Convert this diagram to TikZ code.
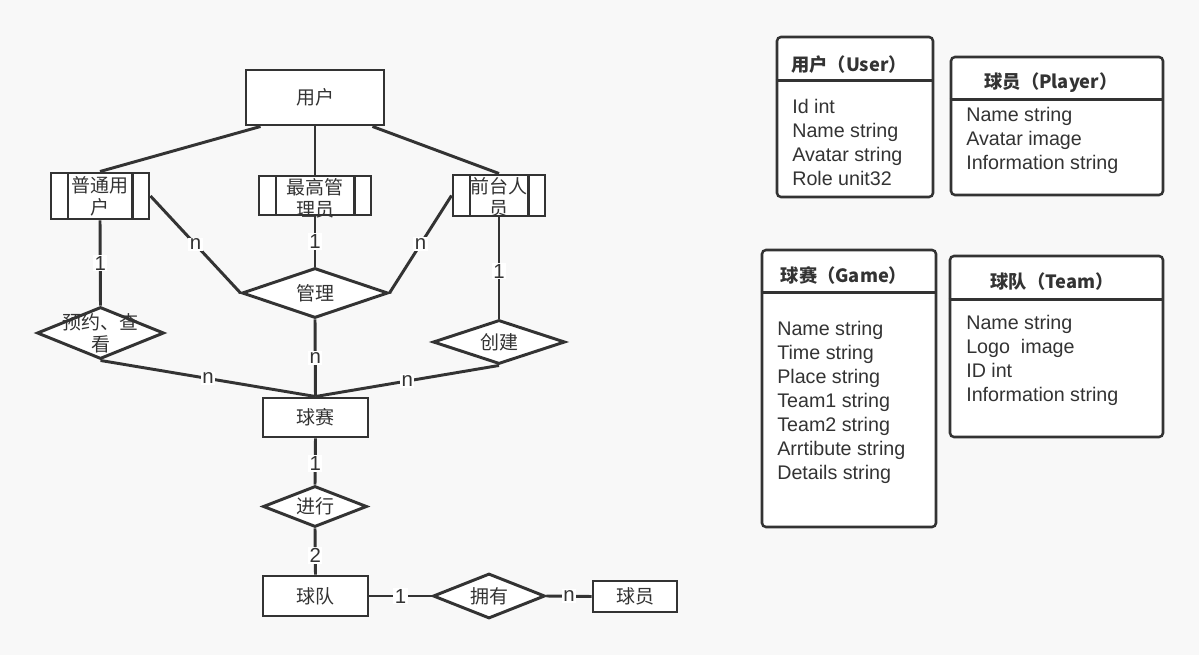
\documentclass[tikz,border=0pt]{standalone}
\usepackage{fontspec}
\setmainfont{Liberation Sans}
\newfontfamily\cjk{Noto Sans CJK SC}
\usetikzlibrary{shapes.geometric}
\definecolor{ink}{HTML}{333333}
\definecolor{paper}{HTML}{F8F8F8}
\tikzset{
  sz/.style 2 args={minimum width=#1*0.025cm, minimum height=#2*0.025cm, inner sep=0pt},
  txt/.style={font=\cjk\fontsize{13.5}{15.5}\selectfont, text=ink, align=center},
  ent/.style={rectangle, draw=ink, fill=white, line width=2.1pt},
  sub/.style={ent, path picture={
    \draw[ink, line width=2.1pt] ([xshift=0.425cm]path picture bounding box.north west) -- ([xshift=0.425cm]path picture bounding box.south west);
    \draw[ink, line width=2.1pt] ([xshift=-0.41cm]path picture bounding box.north east) -- ([xshift=-0.41cm]path picture bounding box.south east);}},
  rel/.style={diamond, draw=ink, fill=white, line width=2.1pt},
  con/.style={draw=ink, line width=2.1pt},
  lbl/.style={font=\fontsize{14.5}{16}\selectfont, text=ink, fill=white, inner sep=1pt},
  tbl/.style={rectangle, draw=ink, fill=white, line width=1.8pt, rounded corners=0.1cm},
  ttl/.style={font=\cjk\bfseries\fontsize{13}{15}\selectfont, text=ink},
  fld/.style={font=\fontsize{14}{17.07}\selectfont, text=ink, align=left, inner sep=0pt, anchor=north west}
}
\begin{document}
\begin{tikzpicture}[x=0.025cm, y=-0.025cm]
\fill[paper] (0,0) rectangle (1199,655);
\useasboundingbox (0,0) rectangle (1199,655);

% entities
\node[ent, sz={138}{55}, label={[txt]center:用户}] (user) at (315,97.5) {};
\node[sub, sz={98}{46}, label={[txt]center:普通用\\户}] (normal) at (100,196) {};
\node[sub, sz={112}{39}, label={[txt, yshift=-0.06cm]center:最高管\\理员}] (admin) at (315,195.5) {};
\node[sub, sz={92}{41}, label={[txt, yshift=-0.04cm]center:前台人\\员}] (staff) at (499,195.5) {};
\node[ent, sz={105}{39}, label={[txt]center:球赛}] (game) at (315.5,417.5) {};
\node[ent, sz={105}{40}, label={[txt]center:球队}] (team) at (315.5,596) {};
\node[ent, sz={84}{31}, label={[txt]center:球员}] (player) at (635,596.5) {};

% relations
\node[rel, sz={146}{50}, label={[txt]center:管理}] (manage) at (315,293) {};
\node[rel, sz={127}{52}, label={[txt]center:预约、查\\看}] (book) at (100.5,333) {};
\node[rel, sz={132}{44}, label={[txt]center:创建}] (create) at (499,342) {};
\node[rel, sz={104}{41}, label={[txt]center:进行}] (play) at (315,506.5) {};
\node[rel, sz={112}{45}, label={[txt]center:拥有}] (own) at (489,596) {};

\draw[con] ([xshift=0.4cm]user.south west) -- (normal.north);
\draw[con] (user.south) -- (admin.north);
\draw[con] ([xshift=-0.325cm]user.south east) -- (staff.north);

\draw[con] (normal.east) -- node[lbl]{n} (manage.west);
\draw[con] (admin.south) -- node[lbl]{1} (manage.north);
\draw[con] (staff.west) -- node[lbl]{n} (manage.east);
\draw[con] (normal.south) -- node[lbl]{1} (book.north);
\draw[con] (staff.south) -- node[lbl, pos=0.53]{1} (create.north);
\draw[con] (book.south) -- node[lbl]{n} (game.north);
\draw[con] (manage.south) -- node[lbl]{n} (game.north);
\draw[con] (create.south) -- node[lbl]{n} (game.north);
\draw[con] (game.south) -- node[lbl, pos=0.55]{1} (play.north);
\draw[con] (play.south) -- node[lbl, pos=0.58]{2} (team.north);
\draw[con] (team.east) -- node[lbl]{1} (own.west);
\draw[con] (own.east) -- node[lbl]{n} (player.west);

% tables
\node[tbl, sz={156}{160}] (tuser) at (855,117) {};
\draw[ink, line width=1.8pt] ([yshift=-1.125cm]tuser.north west) -- ([yshift=-1.125cm]tuser.north east);
\node[ttl] (tuserh) at (849,65) {用户（User）};
\node[fld] (tuserf) at (792,99) {Id int\\Name string\\Avatar string\\Role unit32};

\node[tbl, sz={212}{138}] (tplayer) at (1057,126) {};
\draw[ink, line width=1.8pt] ([yshift=-1.1cm]tplayer.north west) -- ([yshift=-1.1cm]tplayer.north east);
\node[ttl] (tplayerh) at (1051,83) {球员（Player）};
\node[fld] (tplayerf) at (966,107) {Name string\\Avatar image\\Information string};

\node[tbl, sz={174}{277}] (tgame) at (849,388.5) {};
\draw[ink, line width=1.8pt] ([yshift=-1.1cm]tgame.north west) -- ([yshift=-1.1cm]tgame.north east);
\node[ttl] (tgameh) at (844,275) {球赛（Game）};
\node[fld] (tgamef) at (777,321) {Name string\\Time string\\Place string\\Team1 string\\Team2 string\\Arrtibute string\\Details string};

\node[tbl, sz={213}{181}] (tteam) at (1056.5,346.5) {};
\draw[ink, line width=1.8pt] ([yshift=-1.125cm]tteam.north west) -- ([yshift=-1.125cm]tteam.north east);
\node[ttl] (tteamh) at (1052,282) {球队（Team）};
\node[fld] (tteamf) at (966,315) {Name string\\Logo~ image\\ID int\\Information string};
\end{tikzpicture}
\end{document}
